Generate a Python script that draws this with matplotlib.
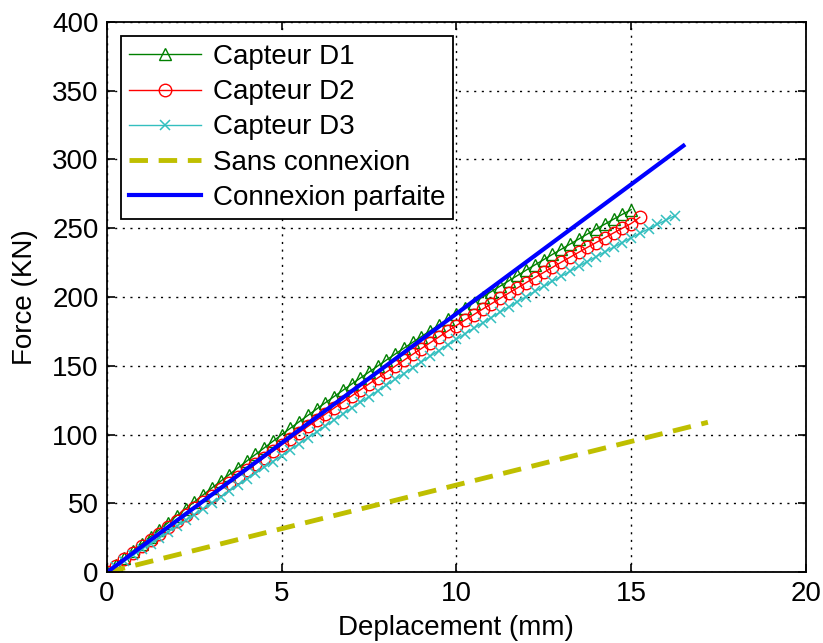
import matplotlib
matplotlib.use("Agg")
import matplotlib.pyplot as plt

plt.rcParams['font.family'] = ['Liberation Sans', 'DejaVu Sans']

# ---- data ----
d1_x = [0.00, 0.25, 0.50, 0.75, 1.00, 1.25, 1.50, 1.75, 2.00, 2.25, 2.50, 2.75, 3.00, 3.25, 3.50, 3.75,
        4.00, 4.25, 4.50, 4.75, 5.00, 5.25, 5.50, 5.75, 6.00, 6.25, 6.50, 6.75, 7.00, 7.25, 7.50, 7.75,
        8.00, 8.25, 8.50, 8.75, 9.00, 9.25, 9.50, 9.75, 10.00, 10.25, 10.50, 10.75, 11.00, 11.25, 11.50,
        11.75, 12.00, 12.25, 12.50, 12.75, 13.00, 13.25, 13.50, 13.75, 14.00, 14.25, 14.50, 14.75, 15.00]
d1_y = [0.0, 5.2, 10.4, 15.6, 20.8, 25.9, 31.0, 36.1, 41.2, 46.2, 51.2, 56.2, 61.2, 66.1, 71.0, 75.9,
        80.8, 85.6, 90.4, 95.2, 100.0, 104.7, 109.4, 114.0, 118.6, 123.2, 127.7, 132.2, 136.7, 141.1, 145.5, 149.9,
        154.3, 158.6, 162.9, 167.1, 171.3, 175.5, 179.7, 183.8, 187.9, 192.0, 196.0, 200.0, 204.0, 207.9, 211.8,
        215.7, 219.6, 223.4, 227.2, 231.0, 234.7, 238.4, 242.1, 245.8, 249.4, 253.0, 256.6, 260.1, 263.5]

d2_x = [0.00, 0.25, 0.50, 0.75, 1.00, 1.25, 1.50, 1.75, 2.00, 2.25, 2.50, 2.75, 3.00, 3.25, 3.50, 3.75,
        4.00, 4.25, 4.50, 4.75, 5.00, 5.25, 5.50, 5.75, 6.00, 6.25, 6.50, 6.75, 7.00, 7.25, 7.50, 7.75,
        8.00, 8.25, 8.50, 8.75, 9.00, 9.25, 9.50, 9.75, 10.00, 10.25, 10.50, 10.75, 11.00, 11.25, 11.50,
        11.75, 12.00, 12.25, 12.50, 12.75, 13.00, 13.25, 13.50, 13.75, 14.00, 14.25, 14.50, 14.75, 15.00, 15.25]
d2_y = [0.0, 4.7, 9.4, 14.1, 18.8, 23.5, 28.1, 32.7, 37.3, 41.9, 46.5, 51.1, 55.7, 60.3, 64.9, 69.5,
        74.1, 78.7, 83.3, 87.9, 92.5, 97.0, 101.5, 106.0, 110.5, 114.9, 119.3, 123.7, 128.1, 132.5, 136.9, 141.2,
        145.5, 149.8, 154.1, 158.4, 162.6, 166.8, 171.0, 175.2, 179.3, 183.3, 187.3, 191.2, 195.1, 199.0, 202.9,
        206.7, 210.5, 214.2, 217.9, 221.6, 225.3, 228.9, 232.5, 236.1, 239.6, 243.1, 246.6, 250.0, 253.4, 258.0]

d3_x = [0.00, 0.25, 0.50, 0.75, 1.00, 1.25, 1.50, 1.75, 2.00, 2.25, 2.50, 2.75, 3.00, 3.25, 3.50, 3.75,
        4.00, 4.25, 4.50, 4.75, 5.00, 5.25, 5.50, 5.75, 6.00, 6.25, 6.50, 6.75, 7.00, 7.25, 7.50, 7.75,
        8.00, 8.25, 8.50, 8.75, 9.00, 9.25, 9.50, 9.75, 10.00, 10.25, 10.50, 10.75, 11.00, 11.25, 11.50,
        11.75, 12.00, 12.25, 12.50, 12.75, 13.00, 13.25, 13.50, 13.75, 14.00, 14.25, 14.50, 14.75, 15.00,
        15.25, 15.50, 15.75, 16.00, 16.25]
d3_y = [0.0, 4.1, 8.3, 12.5, 16.7, 20.9, 25.1, 29.3, 33.5, 37.7, 41.9, 46.1, 50.4, 54.7, 59.0, 63.3,
        67.6, 71.9, 76.2, 80.5, 84.8, 89.1, 93.4, 97.7, 102.0, 106.3, 110.6, 114.9, 119.2, 123.4, 127.6, 131.8,
        136.0, 140.2, 144.4, 148.6, 152.8, 157.0, 161.1, 165.2, 169.3, 173.3, 177.3, 181.2, 185.1, 189.0, 192.8,
        196.6, 200.4, 204.1, 207.8, 211.5, 215.1, 218.7, 222.3, 225.8, 229.3, 232.8, 236.2, 239.6, 243.0,
        246.3, 249.6, 252.8, 256.0, 259.1]

sans_x = [0.0, 17.2]
sans_y = [0.0, 109.0]

parf_x = [0.0, 16.5]
parf_y = [0.0, 310.0]

labels = ["Capteur D1", "Capteur D2", "Capteur D3", "Sans connexion", "Connexion parfaite"]
x_ticks = [0, 5, 10, 15, 20]
y_ticks = [0, 50, 100, 150, 200, 250, 300, 350, 400]

# ---- figure ----
fig = plt.figure(figsize=(8.23, 6.43), dpi=100)
ax = fig.add_axes([0.130, 0.110, 0.849, 0.856])

ax.plot(d1_x, d1_y, color=(0, 0.5, 0), marker='^', markersize=9, markerfacecolor='none',
        markeredgewidth=1.0, linewidth=1.0, label=labels[0])
ax.plot(d2_x, d2_y, color=(1, 0, 0), marker='o', markersize=9, markerfacecolor='none',
        markeredgewidth=1.0, linewidth=1.0, label=labels[1])
ax.plot(d3_x, d3_y, color=(0.2, 0.75, 0.75), marker='x', markersize=7, markeredgewidth=1.1,
        linewidth=1.0, label=labels[2])
ax.plot(sans_x, sans_y, color=(0.75, 0.75, 0), linestyle=(0, (3.8, 2.2)), linewidth=3.5,
        label=labels[3])
ax.plot(parf_x, parf_y, color=(0, 0, 1), linewidth=3.0, label=labels[4])

ax.set_xlim(0, 20)
ax.set_ylim(0, 400)
ax.set_xticks(x_ticks)
ax.set_yticks(y_ticks)
ax.tick_params(direction='in', top=True, right=True, labelsize=20, length=6, width=1.2, pad=6)
ax.grid(True, color='black', linestyle=(0, (1.5, 4)), linewidth=1.0)
for s in ax.spines.values():
    s.set_linewidth(1.3)

ax.set_xlabel("Deplacement (mm)", fontsize=20, labelpad=6)
ax.set_ylabel("Force (KN)", fontsize=20, labelpad=10)

leg = ax.legend(loc='upper left', fontsize=20, frameon=True, fancybox=False, edgecolor='black',
                framealpha=1.0, handlelength=2.6, labelspacing=0.33, borderpad=0.3,
                handletextpad=0.4, borderaxespad=0.5)
leg.get_frame().set_linewidth(1.3)

fig.savefig("out.png", dpi=100)
